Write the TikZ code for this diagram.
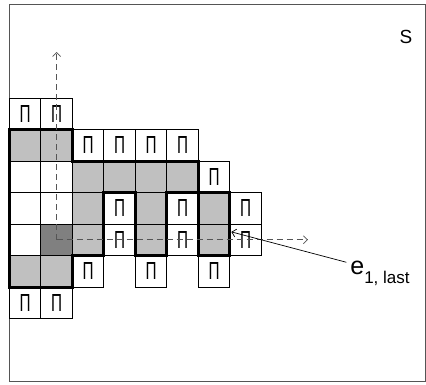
\documentclass[tikz,border=0pt]{standalone}
\usepackage{graphicx}
\usepackage{fontspec}
\setmainfont{Liberation Sans}
\usetikzlibrary{arrows.meta}
\definecolor{shade}{HTML}{C0C0C0}
\definecolor{darkshade}{HTML}{808080}
\definecolor{rule}{HTML}{555555}
\newcommand{\pimark}{\resizebox{11pt}{17pt}{Π}}

\begin{document}
\begin{tikzpicture}[x=31.5pt,y=-31.5pt,>={Straight Barb[length=4pt,width=8pt]},
  cell/.style={draw,line width=.7pt,minimum size=31.5pt,inner sep=0pt,outer sep=0pt},
  gcell/.style={cell,fill=shade},
  wcell/.style={cell,fill=white},
  dcell/.style={cell,fill=darkshade},
  tcell/.style={cell,fill=white},
  axis/.style={rule,line width=.7pt,dash pattern=on 6pt off 4pt}]
  \useasboundingbox (-0.295,-3.111) rectangle (13.228,9.079);
  \draw[rule,line width=1pt] (0,-2.96) rectangle (13.21,9.01);
  \node[font=\fontsize{19}{19}\selectfont] (s) at (12.59,-1.93) {S};
  % cells of the grid, column/row from the top left
  \foreach \c/\r in {0/1,1/1,2/2,3/2,4/2,5/2,2/3,4/3,6/3,2/4,4/4,6/4,0/5,1/5}
    \node[gcell] (c-\c-\r) at (\c+.5,\r+.5) {};
  \foreach \c/\r in {0/2,1/2,0/3,1/3,0/4}
    \node[wcell] (c-\c-\r) at (\c+.5,\r+.5) {};
  \node[dcell] (c-1-4) at (1.5,4.5) {};
  \foreach \c/\r in {0/0,1/0,2/1,3/1,4/1,5/1,6/2,3/3,5/3,7/3,3/4,5/4,7/4,2/5,4/5,6/5,0/6,1/6}
    \node[tcell] (c-\c-\r) at (\c+.5,\r+.5) {\pimark};
  % boundary of the region
  \draw[line width=3pt] (0,1) -- (2,1) -- (2,2) -- (6,2) -- (6,3) -- (7,3) -- (7,5)
    -- (6,5) -- (6,3) -- (5,3) -- (5,5) -- (4,5) -- (4,3) -- (3,3) -- (3,5)
    -- (2,5) -- (2,6) -- (0,6) -- cycle;
  % axes
  \coordinate (ytip) at (1.5,-1.46);
  \coordinate (xtip) at (9.48,4.5);
  \draw[axis,->] (c-1-4.center) -- (ytip);
  \draw[axis,->] (c-1-4.center) -- (xtip);
  \coordinate (etip) at (7.05,4.25);
  \node[anchor=base west,inner sep=4pt,outer sep=0pt,font=\fontsize{25}{25}\selectfont]
    (elast) at (10.7,5.6) {e\raisebox{-9pt}{\fontsize{17}{17}\selectfont 1, last}};
  \draw[line width=.7pt,->] ([yshift=11pt]elast.west) -- (etip);
\end{tikzpicture}
\end{document}
